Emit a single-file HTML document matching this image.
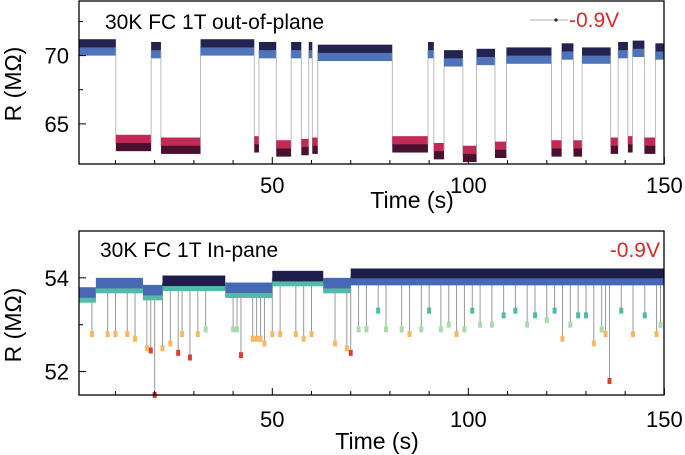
<!DOCTYPE html>
<html><head><meta charset="utf-8">
<style>
html,body{margin:0;padding:0;background:#fff;}
svg{display:block;font-family:"Liberation Sans",sans-serif;}
</style></head>
<body>
<svg id="chart" width="685" height="455" viewBox="0 0 685 455"></svg>
<script>
// ---------- Top panel data (out-of-plane) ----------
const topSegStart = [0.7,10.1,19.1,21.6,31.7,45.4,46.6,51,54.8,57.4,59.3,60.2,61.6,80.6,89.7,91.2,93.8,98.6,102.1,106.8,109.7,121.2,123.8,126.8,129,136.3,138.2,140.7,141.9,144.9,147.7];
const topSegEnd   = [10.1,19.1,21.6,31.7,45.4,46.6,51,54.8,57.4,59.3,60.2,61.6,80.6,89.7,91.2,93.8,98.6,102.1,106.8,109.7,121.2,123.8,126.8,129,136.3,138.2,140.7,141.9,144.9,147.7,150];
const topSegLevel = [70.6,63.6,70.4,63.4,70.6,63.5,70.4,63.2,70.4,63.3,70.4,63.4,70.2,63.5,70.4,63.0,69.8,62.8,69.9,63.1,70.0,63.2,70.3,63.2,70.0,63.4,70.4,63.5,70.5,63.4,70.3];
const topXTicks = [50,100,150];
const topYTicks = [65,70];
// ---------- Bottom panel data (in-plane) ----------
const botSegStart = [0.7,5,17,22,38,50,63,70];
const botSegEnd   = [5,17,22,38,50,63,70,150];
const botSegLevel = [53.65,53.85,53.7,53.9,53.75,54.0,53.85,54.05];
const spikeTimes = [4,8,10,13,15,18,19,20,22,24,26,27,29,31,33,40,41,42,45,46,47,48,50,52,56,58,60,66,69,70,72,74,77,79,83,85,88,90,93,95,97,99,101,103,106,109,112,115,117,120,122,124,126,128,130,132,134,135,136,139,142,145,148,149];
const spikeMins  = [52.8,52.8,52.8,52.8,52.7,52.5,52.45,51.5,52.5,52.6,52.4,52.8,52.3,52.8,52.9,52.9,52.9,52.35,52.7,52.7,52.7,52.6,52.8,52.8,52.8,52.7,52.8,52.6,52.5,52.4,52.9,52.9,53.3,52.9,52.9,52.8,52.9,53.3,52.9,53.0,52.8,52.9,53.3,53.0,53.0,53.2,53.3,53.0,53.2,53.1,53.3,52.7,53.0,53.2,53.2,52.6,52.9,52.8,51.8,53.3,52.8,53.2,52.8,53.0];
const botXTicks = [50,100,150];
const botYTicks = [52,54];

const NS='http://www.w3.org/2000/svg';
const svg=document.getElementById('chart');
function mk(tag,attrs,parent){const e=document.createElementNS(NS,tag);for(const k in attrs)e.setAttribute(k,attrs[k]);(parent||svg).appendChild(e);return e;}

function panel(cfg){
  const g=mk('g',{});
  
  
  const xs=t=>cfg.x0+(t-cfg.xmin)/(cfg.xmax-cfg.xmin)*(cfg.x1-cfg.x0);
  const ys=v=>cfg.y1-(v-cfg.ymin)/(cfg.ymax-cfg.ymin)*(cfg.y1-cfg.y0);
  return {g,xs,ys};
}
function spectral(v,lo,hi){
  const f=(v-lo)/(hi-lo);
  if(f>0.9)return '#1e1e4a';
  if(f>0.75)return '#4768b3';
  if(f>0.6)return '#55b9a8';
  if(f>0.45)return '#a9dbad';
  if(f>0.3)return '#f8b866';
  return '#d9412e';
}
function axes(p,cfg,xt,yt,minorY,labelY){
  const {g,xs,ys}=p;
  const b=mk('rect',{x:cfg.x0,y:cfg.y0,width:cfg.x1-cfg.x0,height:cfg.y1-cfg.y0,fill:'none',stroke:'#000','stroke-width':1.3},g);
  
  for(let t=10;t<=150;t+=10){const x=xs(t);const major=t%50===0;
    mk('line',{x1:x,x2:x,y1:cfg.y1,y2:cfg.y1-(major?7:4),stroke:'#000','stroke-width':1},g);}
  xt.forEach(t=>{const e=mk('text',{x:xs(t),y:labelY,'text-anchor':'middle','font-size':22},g);e.textContent=t;
    });
  minorY.forEach(v=>mk('line',{x1:cfg.x0,x2:cfg.x0+4,y1:ys(v),y2:ys(v),stroke:'#000'},g));
  yt.forEach(v=>{mk('line',{x1:cfg.x0,x2:cfg.x0+7,y1:ys(v),y2:ys(v),stroke:'#000'},g);
    const e=mk('text',{x:cfg.x0-10,y:ys(v)+8,'text-anchor':'end','font-size':22},g);e.textContent=v;
    });
}

// ----- Top panel -----
const cT={name:'out-of-plane-panel',x0:79,x1:664,y0:1,y1:164,xmin:0.7,xmax:149.9,ymin:62.06,ymax:74.0};
const pT=panel(cT);
topSegLevel.forEach((lv,i)=>{
  const x0=pT.xs(topSegStart[i]),x1=pT.xs(topSegEnd[i]);
  if(i>0){mk('line',{x1:x0,x2:x0,y1:pT.ys(topSegLevel[i-1]),y2:pT.ys(lv),stroke:'#aaa','stroke-width':0.8},pT.g);}
  const high=lv>67;
  const top=pT.ys(lv+0.6),h=pT.ys(lv-0.6)-top;
  const r1=mk('rect',{x:x0,y:top,width:x1-x0,height:h*0.55,fill:high?'#23234f':'#c12a55'},pT.g);
  
  mk('rect',{x:x0,y:top+h*0.5,width:x1-x0,height:h*0.5,fill:high?'#4f74bb':'#4a1030'},pT.g);
});
axes(pT,cT,topXTicks,topYTicks,[72.5,67.5],193);
let t1=mk('text',{x:105,y:29,'font-size':21},pT.g);t1.textContent='30K FC 1T out-of-plane';

const lg=mk('g',{},pT.g);
mk('line',{x1:530,x2:568,y1:20,y2:20,stroke:'#999','stroke-width':0.8},lg);
mk('circle',{cx:556,cy:20,r:1.6,fill:'#1e1e4a'},lg);
let lt=mk('text',{x:569,y:27,'font-size':21,fill:'#d42a2a'},lg);lt.textContent='-0.9V';
let xl=mk('text',{x:412,y:208,'text-anchor':'middle','font-size':23},pT.g);xl.textContent='Time (s)';

let yl=mk('text',{x:0,y:0,'text-anchor':'middle','font-size':23,transform:'translate(21,84) rotate(-90)'},pT.g);yl.textContent='R (MΩ)';


// ----- Bottom panel -----
const cB={name:'in-plane-panel',x0:79,x1:664,y0:231,y1:395,xmin:0.7,xmax:149.9,ymin:51.5,ymax:55.0};
const pB=panel(cB);
spikeTimes.forEach((t,i)=>{
  const x=pB.xs(t);let base=botSegLevel[0];
  botSegStart.forEach((s,j)=>{if(t>=s&&t<botSegEnd[j])base=botSegLevel[j];});
  const l=mk('line',{x1:x,x2:x,y1:pB.ys(base),y2:pB.ys(spikeMins[i]),stroke:'#999','stroke-width':1},pB.g);
  
  const c=mk('rect',{x:x-2,y:pB.ys(spikeMins[i])-3,width:4,height:6,fill:spectral(spikeMins[i],51.8,54.1)},pB.g);
  
});
botSegLevel.forEach((lv,i)=>{
  const x0=pB.xs(botSegStart[i]),x1=pB.xs(botSegEnd[i]);
  const top=pB.ys(lv+0.15),h=pB.ys(lv-0.15)-top;
  const r=mk('rect',{x:x0,y:top,width:x1-x0,height:h,fill:spectral(lv,51.8,54.1)},pB.g);
  
  if(lv>54)mk('rect',{x:x0,y:top+h*0.7,width:x1-x0,height:h*0.5,fill:'#4768b3'},pB.g);
  else mk('rect',{x:x0,y:top+h*0.75,width:x1-x0,height:h*0.35,fill:'#55b9a8'},pB.g);
});
axes(pB,cB,botXTicks,botYTicks,[53,55],427);
let t2=mk('text',{x:100,y:257,'font-size':21},pB.g);t2.textContent='30K FC 1T In-pane';

let lt2=mk('text',{x:660,y:257,'text-anchor':'end','font-size':21,fill:'#d42a2a'},pB.g);lt2.textContent='-0.9V';

let xl2=mk('text',{x:377,y:449,'text-anchor':'middle','font-size':23},pB.g);xl2.textContent='Time (s)';

let yl2=mk('text',{x:0,y:0,'text-anchor':'middle','font-size':23,transform:'translate(21,325) rotate(-90)'},pB.g);yl2.textContent='R (MΩ)';

</script>
</body></html>
